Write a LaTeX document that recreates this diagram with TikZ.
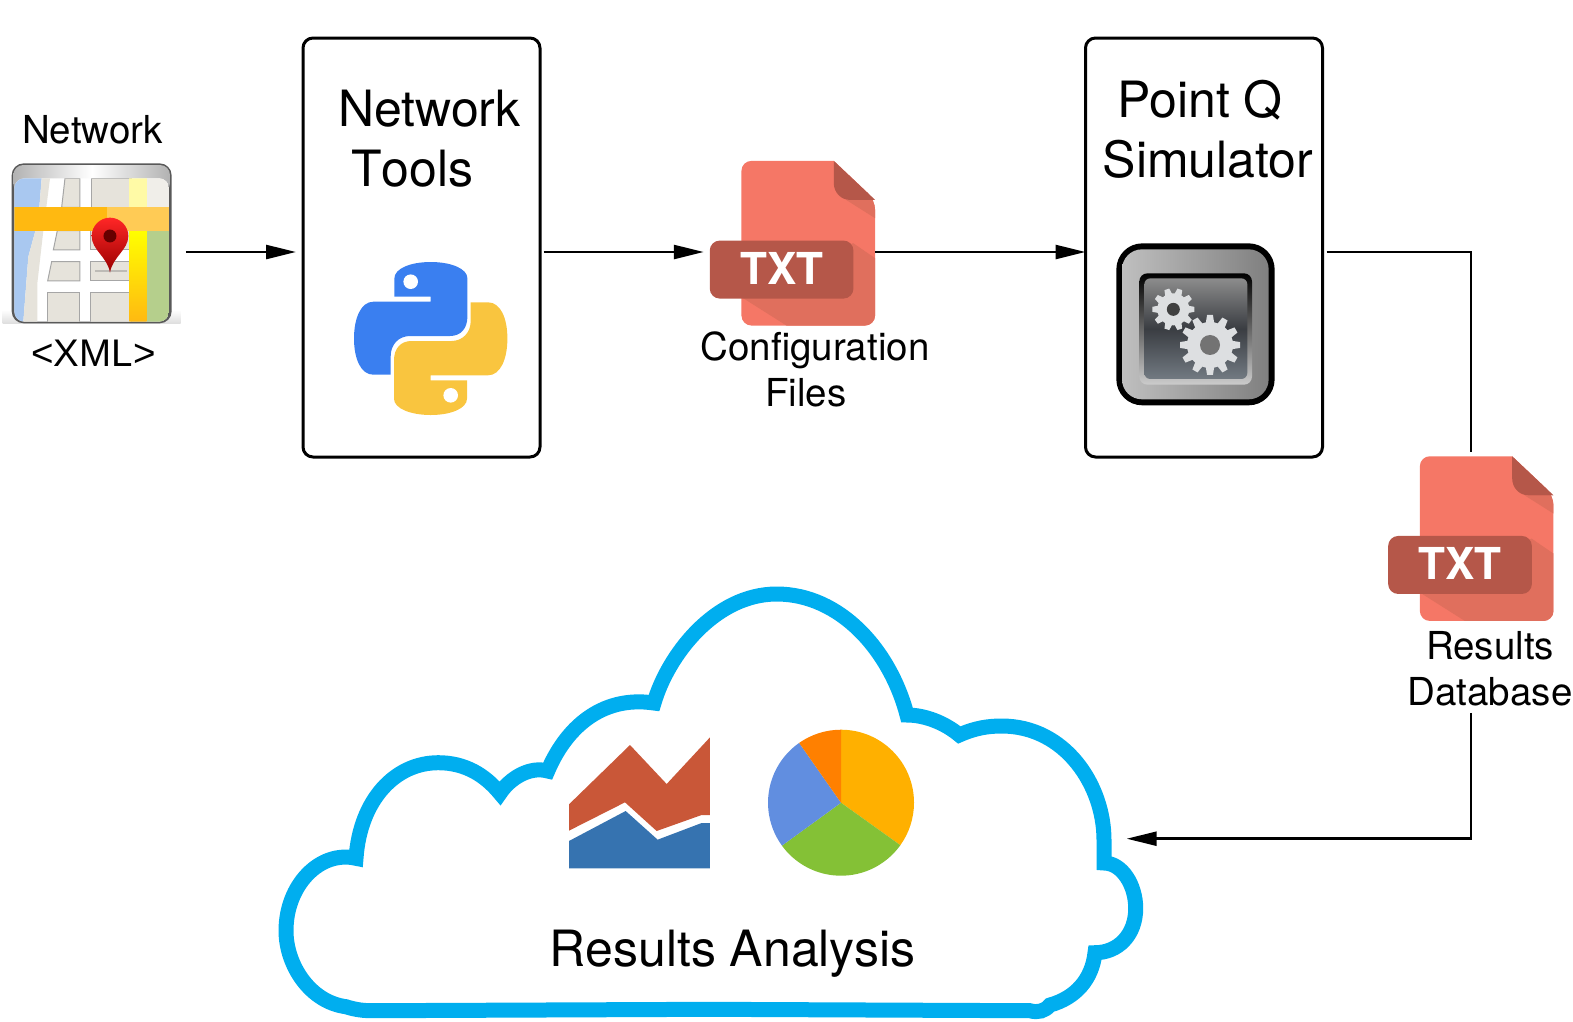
\documentclass[tikz,border=0pt]{standalone}
\usepackage{fontspec}
\setmainfont{TeX Gyre Heros}
\newfontfamily\xmlfont{Liberation Sans}
\usepackage{xcolor}
\usepackage{tikz}
\usetikzlibrary{arrows.meta}
\definecolor{cloudblue}{HTML}{00AEEF}
\definecolor{txtbody}{HTML}{F57766}
\definecolor{txtshade}{HTML}{E06F5D}
\definecolor{txtdark}{HTML}{B55749}
\definecolor{pyblue}{HTML}{3A7FF0}
\definecolor{pyyellow}{HTML}{F9C53F}
\definecolor{chartred}{HTML}{C95738}
\definecolor{chartblue}{HTML}{3673B0}
\definecolor{mapblock}{HTML}{E6E3DB}
\definecolor{mapwater}{HTML}{A9C8F0}
\definecolor{mapgreen}{HTML}{B5CF8C}
\definecolor{maproad}{HTML}{FFB911}
\definecolor{maproadpale}{HTML}{FFCB55}
\definecolor{gearmetal}{HTML}{DDDFE1}
\definecolor{simtop}{HTML}{8C8C8C}
\definecolor{simmid}{HTML}{3A3D42}
\definecolor{simlow}{HTML}{727A82}
\newcommand{\gearwheel}[5]{%
  \begin{scope}[shift={(#1)},x=1pt,y=1pt]
    \fill[gearmetal] (0,0) circle[radius=#2pt];
    \foreach \k in {1,...,#4}
      \fill[gearmetal,rotate=\k*360/#4] (#2-1,-#5) -- (#3,-0.7*#5) -- (#3,0.7*#5) -- (#2-1,#5) -- cycle;
  \end{scope}}

\begin{document}
\begin{tikzpicture}[
    x=1pt, y=-1pt,
    toolbox/.style={rectangle, draw, line width=3pt, rounded corners=10pt, minimum width=237pt, minimum height=419pt, inner sep=0pt},
    iconbox/.style={rectangle, inner sep=0pt, minimum width=165.3pt, minimum height=164.7pt},
    bigtext/.style={anchor=base, inner sep=0pt, font=\fontsize{50}{50}\selectfont},
    smalltext/.style={anchor=base, inner sep=0pt, font=\fontsize{38.5}{40}\selectfont},
    zoomed/.style={x=0.3333pt, y=-0.3333pt},
    arrow/.style={-{Stealth[inset=0pt,length=30pt,width=14pt]}, line width=2.5pt},
    plainline/.style={line width=2.5pt},
    block/.style={fill=mapblock, draw=black!35, line width=1pt},
    txtfile/.pic={
      \fill[txtbody] (92.3,0) [rounded corners=10pt] -- (0,0) -- (0,164.7) -- (133.6,164.7) -- (133.6,39) [sharp corners] -- cycle;
      \begin{scope}
        \clip (92.3,0) [rounded corners=10pt] -- (0,0) -- (0,164.7) -- (133.6,164.7) -- (133.6,39) [sharp corners] -- cycle;
        \fill[txtshade] (104.6,39) -- (133.6,57.3) -- (133.6,39) -- cycle;
        \fill[txtshade] (111.7,82.3) -- (133.6,97.3) -- (133.6,164.7) -- (45,164.7) -- (1.7,137.3) -- cycle;
      \end{scope}
      \fill[txtdark] (92.3,0) -- (92.3,22) .. controls (92.3,32) and (100,39) .. (108,39) -- (133.6,39) -- cycle;
      \fill[txtdark, rounded corners=10pt] (-31.7,79.7) rectangle (112,137.7);
      \node[anchor=center, inner sep=0pt, text=white, font=\fontsize{44}{44}\selectfont\bfseries] (label) at (40.3,107.3) {TXT};
    }
]
\useasboundingbox (0,0) rectangle (1573,1021);

% Map icon
\node[rectangle, inner sep=0pt, minimum size=160pt] (mapicon) at (91.7,243) {};
\begin{scope}[shift={(0,150)}, zoomed]
  \shade[top color=white, bottom color=black!13] (8,480) rectangle (542,520);
  \fill[black!65, rounded corners=12pt] (35,40) rectangle (515,520);
  \shade[left color=black!30, right color=black!30, middle color=white, rounded corners=10pt] (40,45) rectangle (510,130);
  \begin{scope}
    \clip[rounded corners=10pt] (43,85) rectangle (507,515);
    \fill[white] (43,85) rectangle (507,515);
    \fill[mapwater] (43,85) -- (125,85) -- (115,210) -- (85,320) -- (70,515) -- (43,515) -- cycle;
    \fill[mapblock] (125,85) -- (150,85) -- (130,242) -- (112,400) -- (112,515) -- (70,515) -- (85,320) -- (115,210) -- cycle;
    \fill[block] (195,85) -- (240,85) -- (240,172) -- (185,172) -- cycle;
    \fill[block] (275,85) rectangle (395,172);
    \fill[block] (172,242) -- (240,242) -- (240,300) -- (160,300) -- cycle;
    \fill[block] (272,242) rectangle (395,300);
    \fill[block] (155,335) -- (240,335) -- (240,393) -- (143,393) -- cycle;
    \fill[block] (272,335) rectangle (395,393);
    \fill[block] (143,427) rectangle (240,525);
    \fill[block] (272,427) rectangle (395,525);
    \fill[mapblock!60!white] (440,85) rectangle (507,172);
    \fill[mapgreen] (440,242) rectangle (507,515);
    \fill[yellow!35] (388,85) rectangle (440,172);
    \shade[top color=yellow, bottom color=maproad] (388,242) rectangle (440,515);
    \fill[maproad] (43,172) rectangle (320,242);
    \fill[maproadpale] (320,172) rectangle (507,242);
  \end{scope}
  \fill[black!50, opacity=0.4] (285,360) rectangle (380,367);
  \shade[top color=red!85!white, bottom color=red!60!black] (330,368) .. controls (322,320) and (275,300) .. (275,258) .. controls (275,228) and (300,203) .. (330,203) .. controls (360,203) and (385,228) .. (385,258) .. controls (385,300) and (338,320) .. (330,368) -- cycle;
  \fill[red!40!black] (330,258) circle[radius=6.5pt];
\end{scope}
\node[smalltext] (mapname) at (92.5,143.5) {Network};
\node[smalltext] (mapformat) at (93.5,366) {\xmlfont <XML>};

% Network tools
\node[toolbox] (tools) at (421.5,247.5) {};
\node[bigtext] (toolsa) at (429.5,126.4) {Network};
\node[bigtext] (toolsb) at (412.5,186.6) {\addfontfeature{Kerning=Off}Tools};
\foreach \shade/\turn in {pyblue/0,pyyellow/180} {
  \begin{scope}[shift={(430.7,338.5)}, rotate=\turn]
    \fill[\shade] (-36.3,-41.8) -- (-36.3,-60.2) .. controls (-36.3,-70) and (-20,-76.5) .. (0,-76.5) .. controls (20,-76.5) and (36.7,-70) .. (36.7,-60.2) -- (36.7,-21.8) .. controls (36.7,-10) and (30,-2.5) .. (19.3,-2.5) -- (-20.7,-2.5) .. controls (-32,-2.5) and (-40,6) .. (-40,17.5) -- (-40,36.2) -- (-57.3,36.2) .. controls (-70,36.2) and (-76.7,20) .. (-76.7,0) .. controls (-76.7,-20) and (-70,-36.8) .. (-57.3,-36.8) -- (0,-36.8) -- (0,-41.8) -- cycle;
    \fill[white] (-20,-56.8) circle[radius=7.3pt];
  \end{scope}
}

% Configuration files
\node[iconbox] (config) at (792.6,243.4) {};
\pic (configfile) at ([xshift=31.7pt]config.north west) {txtfile};
\node[smalltext] (configa) at (815,360) {Configuration};
\node[smalltext] (configb) at (806,406) {Files};

% Point Q simulator
\node[toolbox] (sim) at (1204,247.5) {};
\node[bigtext] (sima) at (1200,117.4) {Point Q};
\node[bigtext] (simb) at (1208,177.6) {Simulator};
\begin{scope}[shift={(1100,230)}, zoomed]
  \fill[black, rounded corners=26pt] (49,40) rectangle (524,526);
  \shade[left color=black!25, right color=black!50, rounded corners=20pt] (66,58) rectangle (506,508);
  \shade[top color=black, bottom color=black!20, rounded corners=8pt] (118,130) rectangle (456,464);
  \shade[top color=simtop, bottom color=simlow, middle color=simmid, rounded corners=6pt] (133,145) rectangle (442,447);
  \gearwheel{220,238}{16}{21}{10}{3.6}
  \fill[black!75] (220,238) circle[radius=6.5pt];
  \gearwheel{330,345}{23}{30}{12}{4.2}
  \fill[black!55] (330,345) circle[radius=10pt];
\end{scope}

% Results database
\node[iconbox] (results) at (1471,538.8) {};
\pic (resultsfile) at ([xshift=31.7pt]results.north west) {txtfile};
\node[smalltext] (resultsa) at (1490,659) {Results};
\node[smalltext] (resultsb) at (1490,705) {Database};

% Results analysis
\draw[cloudblue, line width=15pt, line join=miter] (373.3,1010.7) .. controls (360,1011) and (350,1008) .. (346,1006.7)
  .. controls (310,1002) and (286,965) .. (286,930.7) .. controls (286,885) and (320,850) .. (356,858.3)
  .. controls (360,800) and (395,762.7) .. (438.3,762.7) .. controls (465,762.7) and (485,775) .. (500,793.3)
  .. controls (510,778) and (530,766) .. (547.7,771) .. controls (565,730) and (600,695) .. (654,703)
  .. controls (668,655) and (715,594) .. (776.7,594) .. controls (840,594) and (890,650) .. (907,715)
  .. controls (925,715) and (945,723) .. (959.3,735) .. controls (975,728) and (988,726) .. (1001.7,726)
  .. controls (1065,726) and (1104,785) .. (1104,840) -- (1104,863)
  .. controls (1122,863) and (1135.7,885) .. (1135.7,908.3) .. controls (1135.7,935) and (1118,952.7) .. (1095,952.7)
  .. controls (1092,980) and (1075,998) .. (1050,1005) .. controls (1045,1011) and (1038,1013) .. (1030,1010.7)
  -- (710,1009.3) -- cycle;
\coordinate (cloudport) at (1126.7,838.7);
\begin{scope}[shift={(550,710)}, zoomed]
  \fill[chartred] (57,283) -- (240,105) -- (350,222) -- (480,82) -- (480,315) -- (455,315) -- (320,363) -- (225,277) -- (57,362) -- cycle;
  \fill[chartblue] (57,393) -- (227,303) -- (323,389) -- (455,339) -- (480,339) -- (480,475) -- (57,475) -- cycle;
\end{scope}
\coordinate (piecentre) at (841,802.7);
\foreach \from/\to/\slice in {90/-35.6/FFB000,-35.6/-144/84C136,216/125/618EE0,125/90/FF8000} {
  \definecolor{slicecolor}{HTML}{\slice}
  \fill[slicecolor] (piecentre) -- ++(\from:73pt) arc[start angle=\from, end angle=\to, radius=73pt] -- cycle;
}
\node[bigtext] (analysis) at (732.5,966) {Results Analysis};

% Connectors
\coordinate (midrow) at (0,252);
\draw[arrow, shorten <=14pt, shorten >=5.5pt] (mapicon.east |- midrow) -- (tools.west |- midrow);
\draw[arrow, shorten <=2pt, shorten >=6pt] (tools.east |- midrow) -- (config.west |- midrow);
\draw[arrow, shorten >=-1.5pt] (config.east |- midrow) -- (sim.west |- midrow);
\draw[plainline, shorten <=2.5pt, shorten >=4.5pt] (sim.east |- midrow) -| (results.north);
\draw[arrow] (results.south |- resultsb.south) ++(0,7) |- (cloudport);

\end{tikzpicture}
\end{document}
